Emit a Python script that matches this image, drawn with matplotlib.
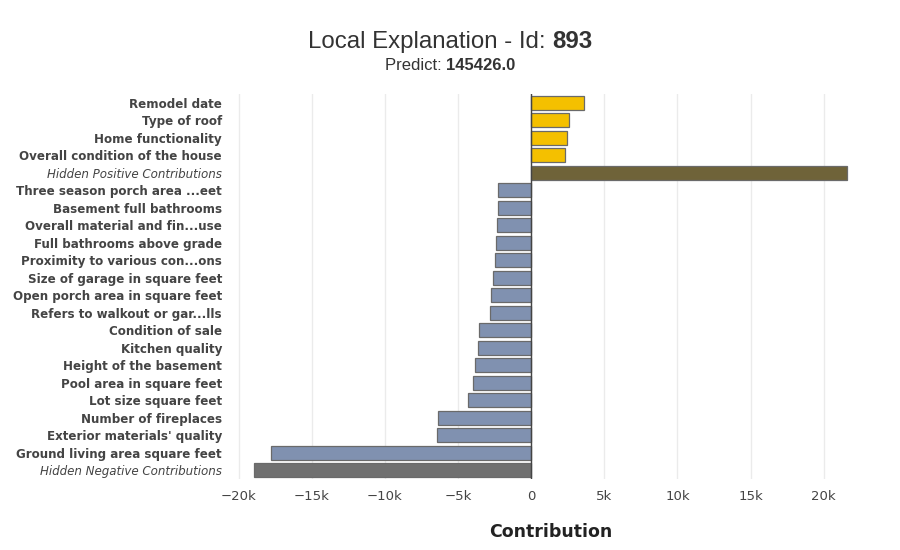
import matplotlib
matplotlib.use("Agg")
import matplotlib.pyplot as plt
import numpy as np

# features listed top to bottom, contributions in thousands
features = ["Remodel date", "Type of roof", "Home functionality",
            "Overall condition of the house", "Hidden Positive Contributions",
            "Three season porch area ...eet", "Basement full bathrooms",
            "Overall material and fin...use", "Full bathrooms above grade",
            "Proximity to various con...ons", "Size of garage in square feet",
            "Open porch area in square feet", "Refers to walkout or gar...lls",
            "Condition of sale", "Kitchen quality", "Height of the basement",
            "Pool area in square feet", "Lot size square feet",
            "Number of fireplaces", "Exterior materials' quality",
            "Ground living area square feet", "Hidden Negative Contributions"]
contrib = [3.63, 2.56, 2.44, 2.29, 21.6,
           -2.23, -2.29, -2.35, -2.41, -2.50, -2.59,
           -2.76, -2.79, -3.54, -3.60, -3.86, -3.95, -4.28,
           -6.39, -6.42, -17.8, -18.96]
xticks = [-20, -15, -10, -5, 0, 5, 10, 15, 20]
xticklabels = ["\u221220k", "\u221215k", "\u221210k", "\u22125k", "0", "5k", "10k", "15k", "20k"]
title_id = "893"
predict = "145426.0"

colors = []
for f, c in zip(features, contrib):
    if f.startswith("Hidden Positive"):
        colors.append("#6f6339")
    elif f.startswith("Hidden Negative"):
        colors.append("#707070")
    elif c > 0:
        colors.append("#f4c000")
    else:
        colors.append("#8091b0")

fig = plt.figure(figsize=(9, 5.5), dpi=100)
ax = fig.add_axes([229/900, 1-479/550, (850-229)/900, (479-94)/550])

y = np.arange(len(features))
ax.barh(y, contrib, height=0.8, color=colors, edgecolor="#6a6a6a", linewidth=0.9, zorder=3)
ax.axvline(0, color="#444444", linewidth=1, zorder=4)
ax.set_ylim(len(features) - 0.5, -0.5)
ax.set_xlim(-20.65, 21.8)
ax.set_xticks(xticks)
ax.set_xticklabels(xticklabels, fontsize=9.5, color="#444444", family="DejaVu Sans")
ax.set_yticks(y)
ax.set_yticklabels(features, fontsize=8.6, color="#444444", family="DejaVu Sans")
for lab in ax.get_yticklabels():
    if lab.get_text().startswith("Hidden"):
        lab.set_fontstyle("italic")
    else:
        lab.set_fontweight("bold")
ax.tick_params(axis="y", length=0, pad=5)
ax.tick_params(axis="x", length=0, pad=8)
ax.grid(axis="x", color="#ebebeb", linewidth=1, zorder=0)
for s in ax.spines.values():
    s.set_visible(False)

fig.text(551/900, 1-532/550, "Contribution", fontsize=12.5, fontweight="bold",
         color="#222222", ha="center", va="center")

# title with bold parts
def mixed(ypos, normal, bold, size):
    t1 = fig.text(0, ypos, normal, fontsize=size, family="Liberation Sans", color="#333333", va="center")
    t2 = fig.text(0, ypos, bold, fontsize=size, family="Liberation Sans", fontweight="bold", color="#333333", va="center")
    fig.canvas.draw()
    r = fig.canvas.get_renderer()
    w1 = t1.get_window_extent(r).width / 900
    w2 = t2.get_window_extent(r).width / 900
    x0 = 0.5 - (w1 + w2) / 2
    t1.set_x(x0)
    t2.set_x(x0 + w1)

mixed(1 - 42/550, "Local Explanation - Id: ", title_id, 17.3)
mixed(1 - 65/550, "Predict: ", predict, 12)

fig.savefig("out.png", dpi=100)
